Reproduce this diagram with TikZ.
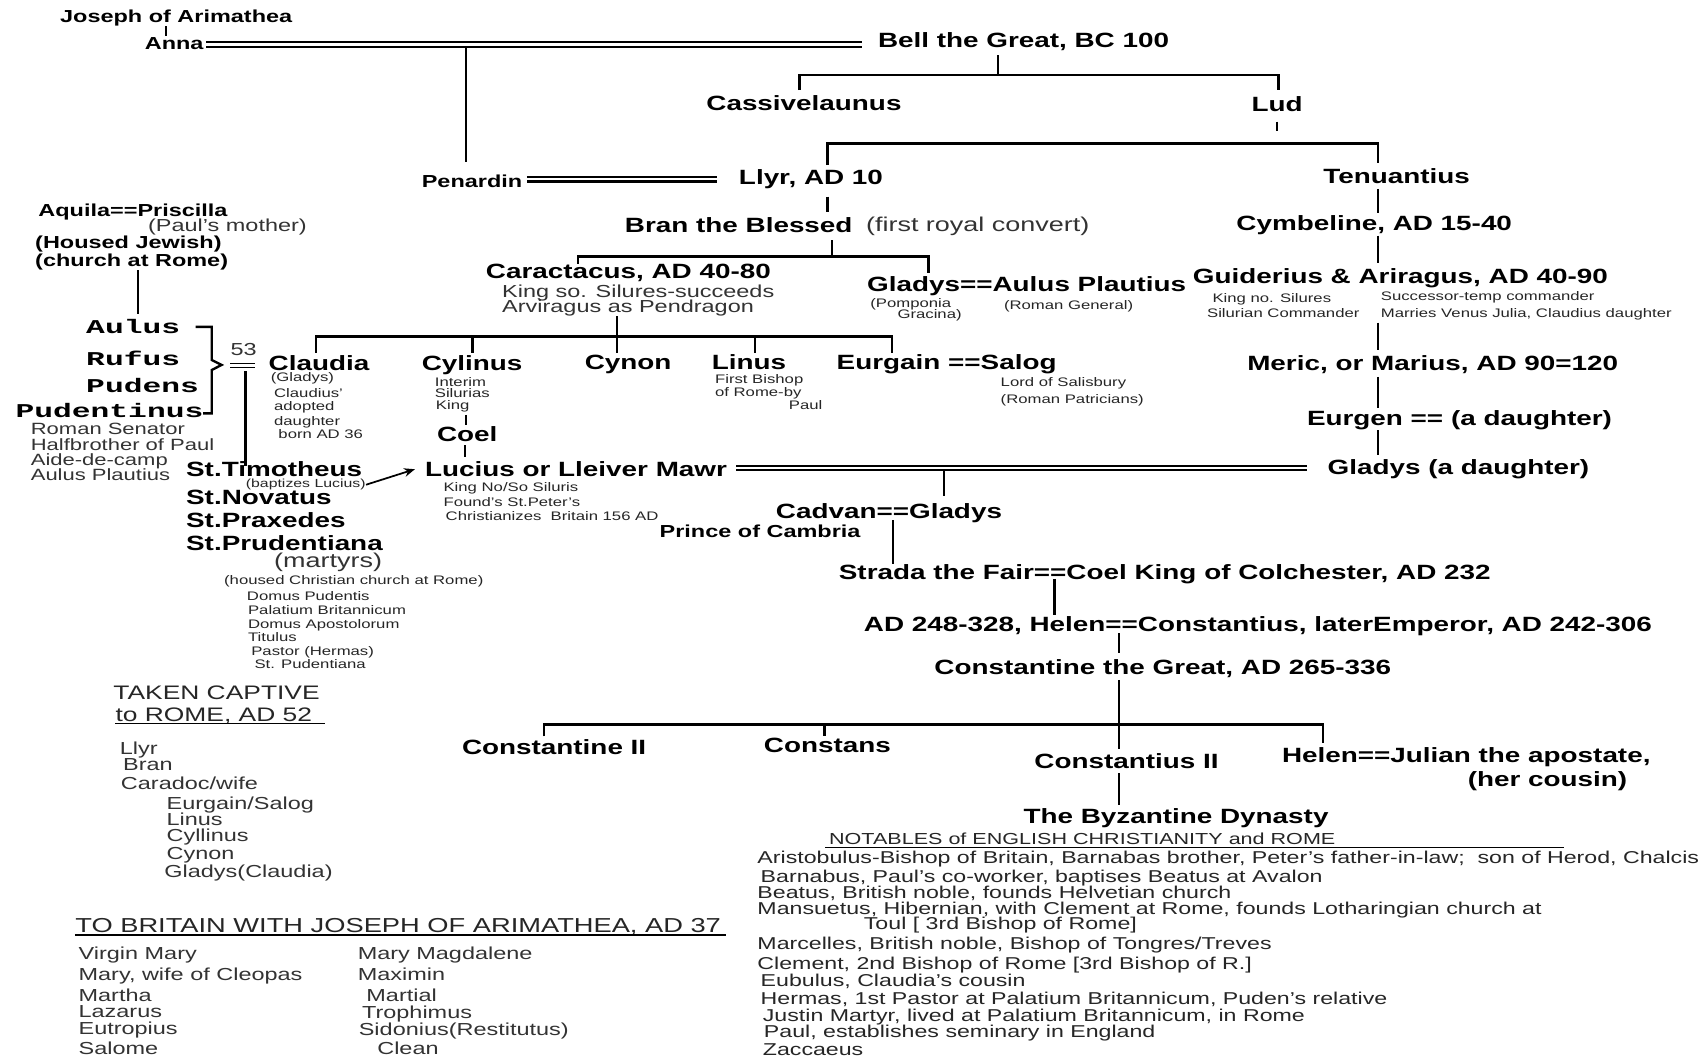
\documentclass[tikz,border=0pt]{standalone}
\usepackage{fontspec}
\setmainfont{Liberation Sans}[FakeStretch=1.35]
\newfontfamily\cour{Liberation Mono}[FakeStretch=1.6]
\usetikzlibrary{arrows.meta}
\tikzset{
 lb/.style={inner sep=0, anchor=base west, yshift=-3.4pt, font=\bfseries\fontsize{9.5}{11}\selectfont},
 sb/.style={inner sep=0, anchor=base west, yshift=-2.85pt, font=\bfseries\fontsize{8}{9}\selectfont},
 rg/.style={inner sep=0, anchor=base west, yshift=-2.85pt, text=black!80, font=\fontsize{8}{9}\selectfont},
 rgs/.style={inner sep=0, anchor=base west, yshift=-2.7pt, text=black!80, font=\fontsize{7.5}{8}\selectfont},
 rgl/.style={inner sep=0, anchor=base west, yshift=-3.3pt, text=black!80, font=\fontsize{9.2}{10}\selectfont},
 hd/.style={inner sep=0, anchor=base west, yshift=-3.2pt, text=black!85, font=\fontsize{9}{10}\selectfont},
 nt/.style={inner sep=0, anchor=base west, yshift=-2.8pt, text=black!85, font=\fontsize{7.9}{9}\selectfont},
 tn/.style={inner sep=0, anchor=base west, yshift=-2.05pt, text=black!85, font=\fontsize{5.7}{6}\selectfont},
 mb/.style={inner sep=0, anchor=base west, yshift=-2.9pt, font=\cour\bfseries\fontsize{9}{10}\selectfont},
 ln/.style={line width=1.1pt},
 thin line/.style={line width=0.6pt},
 dbl/.style={draw=black, line width=1pt, double=white, double distance=1.1pt},
 arr/.style={line width=0.8pt, -{Stealth[length=5pt,width=4pt]}},
}
\begin{document}
\begin{tikzpicture}[x=0.5pt,y=-0.5pt]
\fill[white] (0,0) rectangle (1568,972);
\useasboundingbox (0,0) rectangle (1568,972);

% ---------- top generations ----------
\node[sb] (joseph) at (55,15) {Joseph of Arimathea};
\node[sb] (anna) at (133,40) {Anna};
\node[lb] (bell) at (808,37) {Bell the Great, BC 100};
\node[lb] (cass) at (650,95) {Cassivelaunus};
\node[lb] (lud) at (1152,96) {Lud};
\node[sb] (penardin) at (388,167) {Penardin};
\node[lb] (llyr) at (680,163) {Llyr, AD 10};
\node[lb] (tenu) at (1218,162) {Tenuantius};
\node[lb] (bran) at (575,207) {Bran the Blessed};
\node[rgl] (brannote) at (797,207) {(first royal convert)};
\node[lb] (cymb) at (1138,205) {Cymbeline, AD 15-40};
\node[lb] (carac) at (447,250) {Caractacus, AD 40-80};
\node[rg] (carac1) at (462,268) {King so. Silures-succeeds};
\node[rg] (carac2) at (462,282) {Arviragus as Pendragon};
\node[lb] (gladysap) at (798,262) {Gladys==Aulus Plautius};
\node[tn] (pomp1) at (801,279) {(Pomponia};
\node[tn] (pomp2) at (826,289) {Gracina)};
\node[tn] (romgen) at (924,281) {(Roman General)};
\node[lb] (guid) at (1098,254) {Guiderius \& Ariragus, AD 40-90};
\node[tn] (guid1) at (1116,274) {King no. Silures};
\node[tn] (guid2) at (1111,288) {Silurian Commander};
\node[tn] (guid3) at (1271,273) {Successor-temp commander};
\node[tn] (guid4) at (1271,288) {Marries Venus Julia, Claudius daughter};

% ---------- children of Caractacus ----------
\node[lb] (claudia) at (247,334) {Claudia};
\node[tn] (cl1) at (249,347) {(Gladys)};
\node[tn] (cl2) at (252,362) {Claudius'};
\node[tn] (cl3) at (252,374) {adopted};
\node[tn] (cl4) at (252,388) {daughter};
\node[tn] (cl5) at (256,400) {born AD 36};
\node[lb] (cylinus) at (388,334) {Cylinus};
\node[tn] (cy1) at (400,352) {Interim};
\node[tn] (cy2) at (400,362) {Silurias};
\node[tn] (cy3) at (401,373) {King};
\node[lb] (coel) at (402,400) {Coel};
\node[lb] (lucius) at (391,432) {Lucius or Lleiver Mawr};
\node[tn] (lu1) at (408,448) {King No/So Siluris};
\node[tn] (lu2) at (408,462) {Found's St.Peter's};
\node[tn] (lu3) at (410,475) {Christianizes\ \ Britain 156 AD};
\node[lb] (cynon) at (538,333) {Cynon};
\node[lb] (linus) at (655,333) {Linus};
\node[tn] (li1) at (658,349) {First Bishop};
\node[tn] (li2) at (658,361) {of Rome-by};
\node[tn] (li3) at (726,373) {Paul};
\node[lb] (eurgain) at (770,333) {Eurgain ==Salog};
\node[tn] (sa1) at (921,352) {Lord of Salisbury};
\node[tn] (sa2) at (921,367) {(Roman Patricians)};
\node[lb] (meric) at (1148,334) {Meric, or Marius, AD 90=120};
\node[lb] (eurgen) at (1203,385) {Eurgen == (a daughter)};
\node[lb] (gladysd) at (1222,430) {Gladys (a daughter)};

% ---------- left column ----------
\node[sb] (aquila) at (35,194) {Aquila==Priscilla};
\node[rg] (paulm) at (136,207) {(Paul's mother)};
\node[sb] (housed) at (32,223) {(Housed Jewish)};
\node[sb] (church) at (32,240) {(church at Rome)};
\node[mb] (aulus) at (79,301) {Aulus};
\node[mb] (rufus) at (79,331) {Rufus};
\node[mb] (pudens) at (79,356) {Pudens};
\node[mb] (pudentinus) at (14,379) {Pudentinus};
\node[rgs] (ps1) at (28,395) {Roman Senator};
\node[rgs] (ps2) at (28,409) {Halfbrother of Paul};
\node[rgs] (ps3) at (28,423) {Aide-de-camp};
\node[rgs] (ps4) at (28,437) {Aulus Plautius};
\node[rg] (n53) at (212,322) {53};
\node[lb] (timo) at (171,432) {St.Timotheus};
\node[tn, font=\fontsize{5.4}{6}\selectfont] (bapt) at (226,445) {(baptizes Lucius)};
\node[lb] (nova) at (171,458) {St.Novatus};
\node[lb] (prax) at (171,479) {St.Praxedes};
\node[lb] (prud) at (171,500) {St.Prudentiana};
\node[rgl] (mart) at (252,516) {(martyrs)};
\node[tn] (hc) at (206,534) {(housed Christian church at Rome)};
\node[tn] (d1) at (227,549) {Domus Pudentis};
\node[tn] (d2) at (228,562) {Palatium Britannicum};
\node[tn] (d3) at (228,575) {Domus Apostolorum};
\node[tn] (d4) at (228,587) {Titulus};
\node[tn] (d5) at (231,599) {Pastor (Hermas)};
\node[tn] (d6) at (234,611) {St. Pudentiana};

% ---------- lower tree ----------
\node[lb] (cadvan) at (714,471) {Cadvan==Gladys};
\node[sb] (cambria) at (607,489) {Prince of Cambria};
\node[lb] (strada) at (772,527) {Strada the Fair==Coel King of Colchester, AD 232};
\node[lb] (helen) at (795,575) {AD 248-328, Helen==Constantius, laterEmperor, AD 242-306};
\node[lb] (cgreat) at (860,614) {Constantine the Great, AD 265-336};
\node[lb] (c2) at (425,688) {Constantine II};
\node[lb] (cons) at (703,686) {Constans};
\node[lb] (ctius) at (952,701) {Constantius II};
\node[lb] (helj) at (1180,695) {Helen==Julian the apostate,};
\node[lb] (cous) at (1351,717) {(her cousin)};
\node[lb] (byz) at (942,751) {The Byzantine Dynasty};

% ---------- notables ----------
\node[nt, font=\fontsize{7.35}{8}\selectfont] (notab) at (763,772) {NOTABLES of ENGLISH CHRISTIANITY and ROME};
\node[nt] (nb1) at (697,789) {Aristobulus-Bishop of Britain, Barnabas brother, Peter's father-in-law;\ \ son of Herod, Chalcis};
\node[nt] (nb2) at (700,807) {Barnabus, Paul's co-worker, baptises Beatus at Avalon};
\node[nt] (nb3) at (697,822) {Beatus, British noble, founds Helvetian church};
\node[nt] (nb4) at (697,836) {Mansuetus, Hibernian, with Clement at Rome, founds Lotharingian church at};
\node[nt] (nb5) at (795,850) {Toul [ 3rd Bishop of Rome]};
\node[nt] (nb6) at (697,869) {Marcelles, British noble, Bishop of Tongres/Treves};
\node[nt] (nb7) at (697,887) {Clement, 2nd Bishop of Rome [3rd Bishop of R.]};
\node[nt] (nb8) at (700,903) {Eubulus, Claudia's cousin};
\node[nt] (nb9) at (700,919) {Hermas, 1st Pastor at Palatium Britannicum, Puden's relative};
\node[nt] (nb10) at (702,935) {Justin Martyr, lived at Palatium Britannicum, in Rome};
\node[nt] (nb11) at (703,950) {Paul, establishes seminary in England};
\node[nt] (nb12) at (702,966) {Zaccaeus};

% ---------- captives ----------
\node[hd] (tc1) at (104,638) {TAKEN CAPTIVE};
\node[hd] (tc2) at (106,658) {to ROME, AD 52};
\node[rg] (tl1) at (110,689) {Llyr};
\node[rg] (tl2) at (113,704) {Bran};
\node[rg] (tl3) at (111,721) {Caradoc/wife};
\node[rg] (tl4) at (153,740) {Eurgain/Salog};
\node[rg] (tl5) at (153,754) {Linus};
\node[rg] (tl6) at (153,769) {Cyllinus};
\node[rg] (tl7) at (153,786) {Cynon};
\node[rg] (tl8) at (151,802) {Gladys(Claudia)};

% ---------- to Britain ----------
\node[hd, font=\fontsize{9.3}{10}\selectfont] (tb) at (69,852) {TO BRITAIN WITH JOSEPH OF ARIMATHEA, AD 37};
\node[rg] (tb1) at (72,878) {Virgin Mary};
\node[rg] (tb2) at (72,897) {Mary, wife of Cleopas};
\node[rg] (tb3) at (72,916) {Martha};
\node[rg] (tb4) at (72,931) {Lazarus};
\node[rg] (tb5) at (72,947) {Eutropius};
\node[rg] (tb6) at (72,965) {Salome};
\node[rg] (tb7) at (329,878) {Mary Magdalene};
\node[rg] (tb8) at (329,897) {Maximin};
\node[rg] (tb9) at (337,916) {Martial};
\node[rg] (tb10) at (333,932) {Trophimus};
\node[rg] (tb11) at (330,948) {Sidonius(Restitutus)};
\node[rg] (tb12) at (347,965) {Clean};

% ---------- junction coordinates ----------
\coordinate (ja1) at (153,24); \coordinate (ja2) at (153,33);
\coordinate (ab1) at (190,41); \coordinate (ab2) at (794,41);
\coordinate (pv1) at (429,44); \coordinate (pv2) at (429,149);
\coordinate (bv1) at (919,51); \coordinate (bv2) at (919,69);
\coordinate (bl) at (736,69); \coordinate (br) at (1177,69);
\coordinate (bld) at (736,83); \coordinate (brd) at (1177,83);
\coordinate (lt1) at (1176,112); \coordinate (lt2) at (1176,121);
\coordinate (ll) at (762,132); \coordinate (lr) at (1269,132);
\coordinate (lld) at (762,152); \coordinate (lrd) at (1269,150);
\coordinate (pl1) at (485,165); \coordinate (pl2) at (660,165);
\coordinate (yt1) at (762,181); \coordinate (yt2) at (762,195);
\coordinate (t1) at (1269,174); \coordinate (t2) at (1269,196);
\coordinate (t3) at (1269,217); \coordinate (t4) at (1269,242);
\coordinate (t5) at (1269,297); \coordinate (t6) at (1269,322);
\coordinate (t7) at (1269,347); \coordinate (t8) at (1269,376);
\coordinate (t9) at (1269,396); \coordinate (t10) at (1269,419);
\coordinate (rv1) at (766,221); \coordinate (rv2) at (766,236);
\coordinate (rl) at (532,236); \coordinate (rr) at (855,236);
\coordinate (rld) at (532,243); \coordinate (rrd) at (855,251);
\coordinate (cv1) at (568,291); \coordinate (cv2) at (568,310);
\coordinate (kl) at (291,310); \coordinate (kr) at (821,310);
\coordinate (kld) at (291,325); \coordinate (krd) at (821,325);
\coordinate (k2) at (435,310); \coordinate (k2d) at (435,325);
\coordinate (k3d) at (568,325);
\coordinate (k4) at (695,310); \coordinate (k4d) at (695,325);
\coordinate (cc1) at (429,382); \coordinate (cc2) at (429,391);
\coordinate (cl1a) at (428,410); \coordinate (cl2a) at (428,421);
\coordinate (lg1) at (678,431); \coordinate (lg2) at (1203,431);
\coordinate (cd1) at (869,434); \coordinate (cd2) at (869,457);
\coordinate (cs1) at (822,479); \coordinate (cs2) at (822,519);
\coordinate (sh1) at (971,533); \coordinate (sh2) at (971,566);
\coordinate (hc1) at (1030,583); \coordinate (hc2) at (1030,601);
\coordinate (gv1) at (1030,626); \coordinate (gv2) at (1030,690);
\coordinate (gl) at (501,667); \coordinate (gr) at (1218,667);
\coordinate (gld) at (501,678); \coordinate (grd) at (1218,684);
\coordinate (gc) at (759,667); \coordinate (gcd) at (759,678);
\coordinate (bz1) at (1030,712); \coordinate (bz2) at (1030,741);
\coordinate (aq1) at (127,249); \coordinate (aq2) at (127,289);
\coordinate (br1) at (180,301); \coordinate (br2) at (195,301);
\coordinate (br3) at (195,331.5); \coordinate (br4) at (204,336);
\coordinate (br5) at (195,340.7); \coordinate (br6) at (195,380.6);
\coordinate (br7) at (187,380.6);
\coordinate (eq1) at (212,334.6); \coordinate (eq2) at (235,334.6);
\coordinate (eq3) at (212,338.2); \coordinate (eq4) at (235,338.2);
\coordinate (sv1) at (226,342); \coordinate (sv2) at (226,429);
\coordinate (u1) at (760,780); \coordinate (u2) at (1440,780);
\coordinate (u3) at (106,666); \coordinate (u4) at (299,666);
\coordinate (u5) at (69,861); \coordinate (u6) at (668,861);

% ---------- connectors ----------
\draw[ln] (ja1) -- (ja2);
\draw[dbl] (ab1) -- (ab2);
\draw[ln] (pv1) -- (pv2);
\draw[ln] (bv1) -- (bv2);
\draw[ln] (bld) -- (bl) -- (br) -- (brd);
\draw[ln] (lt1) -- (lt2);
\draw[ln] (lld) -- (ll) -- (lr) -- (lrd);
\draw[dbl] (pl1) -- (pl2);
\draw[ln] (yt1) -- (yt2);
\draw[ln] (t1) -- (t2);
\draw[ln] (t3) -- (t4);
\draw[ln] (t5) -- (t6);
\draw[ln] (t7) -- (t8);
\draw[ln] (t9) -- (t10);
\draw[ln] (rv1) -- (rv2);
\draw[ln] (rld) -- (rl) -- (rr) -- (rrd);
\draw[ln] (cv1) -- (cv2);
\draw[ln] (kld) -- (kl) -- (kr) -- (krd);
\draw[ln] (k2) -- (k2d);
\draw[ln] (cv2) -- (k3d);
\draw[ln] (k4) -- (k4d);
\draw[ln] (cc1) -- (cc2);
\draw[ln] (cl1a) -- (cl2a);
\draw[dbl] (lg1) -- (lg2);
\draw[ln] (cd1) -- (cd2);
\draw[ln] (cs1) -- (cs2);
\draw[ln] (sh1) -- (sh2);
\draw[ln] (hc1) -- (hc2);
\draw[ln] (gv1) -- (gv2);
\draw[ln] (gld) -- (gl) -- (gr) -- (grd);
\draw[ln] (gc) -- (gcd);
\draw[ln] (bz1) -- (bz2);
\draw[ln] (aq1) -- (aq2);
\draw[ln] (br1) -- (br2) -- (br3) -- (br4) -- (br5) -- (br6) -- (br7);
\draw[thin line] (eq1) -- (eq2);
\draw[thin line] (eq3) -- (eq4);
\draw[ln] (sv1) -- (sv2);
\draw[arr] (bapt.east) -- ([xshift=-4.5pt]lucius.west);
\draw[thin line] (u1) -- (u2);
\draw[thin line] (u3) -- (u4);
\draw[thin line] (u5) -- (u6);
\end{tikzpicture}
\end{document}
